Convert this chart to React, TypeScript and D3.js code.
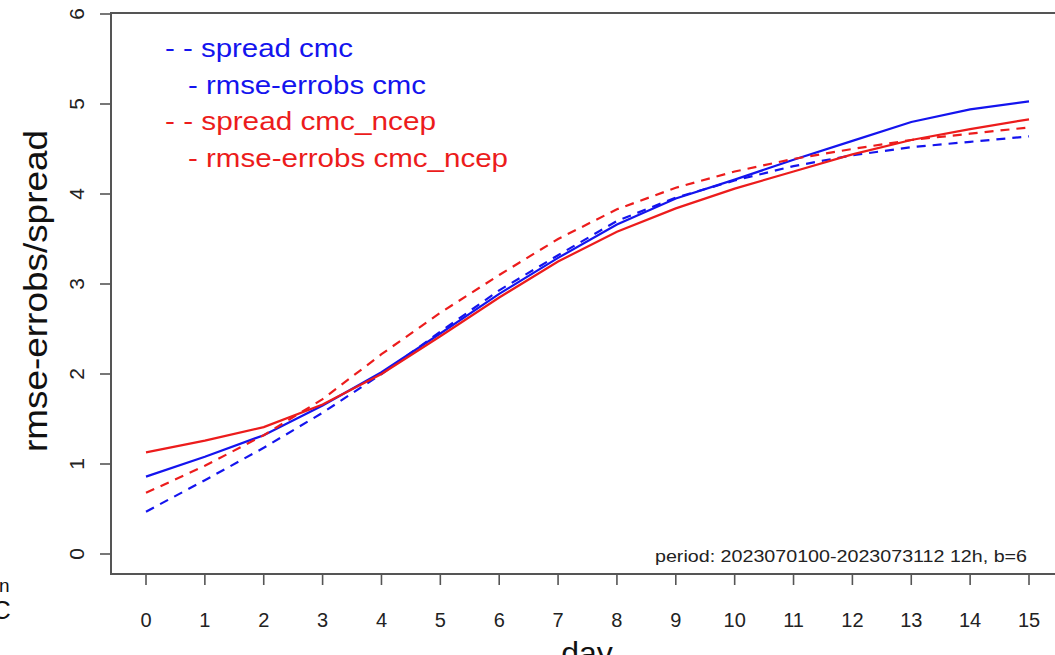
import React from "react";
import * as d3 from "d3";

const days = [0, 1, 2, 3, 4, 5, 6, 7, 8, 9, 10, 11, 12, 13, 14, 15];
const spreadCmc = [0.47, 0.82, 1.18, 1.57, 2.0, 2.47, 2.93, 3.32, 3.7, 3.96, 4.15, 4.31, 4.43, 4.52, 4.58, 4.64];
const rmseCmc = [0.86, 1.08, 1.32, 1.65, 2.02, 2.45, 2.89, 3.29, 3.66, 3.95, 4.16, 4.38, 4.59, 4.8, 4.94, 5.03];
const spreadNcep = [0.68, 0.98, 1.32, 1.72, 2.22, 2.68, 3.1, 3.5, 3.83, 4.07, 4.25, 4.39, 4.5, 4.6, 4.67, 4.74];
const rmseNcep = [1.13, 1.26, 1.41, 1.66, 2.0, 2.42, 2.85, 3.25, 3.58, 3.84, 4.06, 4.25, 4.44, 4.6, 4.72, 4.83];
const yTicks = [0, 1, 2, 3, 4, 5, 6];
const legendLabels = ["- - spread cmc", "- rmse-errobs cmc", "- - spread cmc_ncep", "- rmse-errobs cmc_ncep"];
const periodLabel = "period: 2023070100-2023073112 12h, b=6";

const BLUE = "#1414ee";
const RED = "#ec1c1c";
const AXIS = "#555";
const FONT = "'Liberation Sans', Arial, Helvetica, sans-serif";

export default function App() {
  const x = d3.scaleLinear().domain([0, 15]).range([146, 1029]);
  const y = d3.scaleLinear().domain([0, 6]).range([554, 14]);
  const line = d3
    .line<number>()
    .x((_, i) => x(days[i]))
    .y((v) => y(v));

  const series = [
    { values: spreadCmc, color: BLUE, dash: "9,7" },
    { values: rmseCmc, color: BLUE, dash: undefined },
    { values: spreadNcep, color: RED, dash: "9,7" },
    { values: rmseNcep, color: RED, dash: undefined },
  ];

  const legend = [
    { label: legendLabels[0], color: BLUE, x: 165, len: 188 },
    { label: legendLabels[1], color: BLUE, x: 188, len: 238 },
    { label: legendLabels[2], color: RED, x: 165, len: 271 },
    { label: legendLabels[3], color: RED, x: 188, len: 320 },
  ];

  const boxLeft = 111;
  const boxTop = 13;
  const boxBottom = 574;

  return (
    <svg
      width={1055}
      height={655}
      style={{ position: "absolute", left: 0, top: 0, background: "#fff" }}
      fontFamily={FONT}
    >
      <rect x={0} y={0} width={1055} height={655} fill="#fff" />
      {/* plot box */}
      <path
        d={`M${1070},${boxTop}H${boxLeft}V${boxBottom}H${1070}`}
        fill="none"
        stroke={AXIS}
        strokeWidth={2}
      />
      {/* y axis ticks */}
      {yTicks.map((t) => (
        <g key={"y" + t}>
          <line x1={100} x2={boxLeft} y1={y(t)} y2={y(t)} stroke={AXIS} strokeWidth={1.6} />
          <text
            transform={`translate(84,${y(t)}) rotate(-90)`}
            textAnchor="middle"
            fontSize={21}
            fill="#222"
          >
            {t}
          </text>
        </g>
      ))}
      {/* x axis ticks */}
      {days.map((d) => (
        <g key={"x" + d}>
          <line x1={x(d)} x2={x(d)} y1={boxBottom} y2={585} stroke={AXIS} strokeWidth={1.6} />
          <text x={x(d)} y={627} textAnchor="middle" fontSize={20} fill="#222">
            {d}
          </text>
        </g>
      ))}
      {/* axis titles */}
      <text
        transform="translate(47,291) rotate(-90)"
        textAnchor="middle"
        fontSize={33}
        fill="#111"
        textLength={322}
        lengthAdjust="spacingAndGlyphs"
      >
        rmse-errobs/spread
      </text>
      <text x={587} y={664} textAnchor="middle" fontSize={32} fill="#111">
        day
      </text>
      {/* cropped fragments at left edge */}
      <text x={-1} y={592} fontSize={19} fill="#111">n</text>
      <text x={-8} y={619} fontSize={26} fill="#111">C</text>

      {/* series */}
      {series.map((s, i) => (
        <path
          key={"s" + i}
          d={line(s.values) || ""}
          fill="none"
          stroke={s.color}
          strokeWidth={2.2}
          strokeDasharray={s.dash}
        />
      ))}

      {/* legend */}
      {legend.map((l, i) => (
        <text
          key={"l" + i}
          x={l.x}
          y={57 + i * 36.5}
          fontSize={25}
          fill={l.color}
          textLength={l.len}
          lengthAdjust="spacingAndGlyphs"
        >
          {l.label}
        </text>
      ))}

      {/* period annotation */}
      <text
        x={655}
        y={562}
        fontSize={17}
        fill="#222"
        textLength={372}
        lengthAdjust="spacingAndGlyphs"
      >
        {periodLabel}
      </text>
    </svg>
  );
}
